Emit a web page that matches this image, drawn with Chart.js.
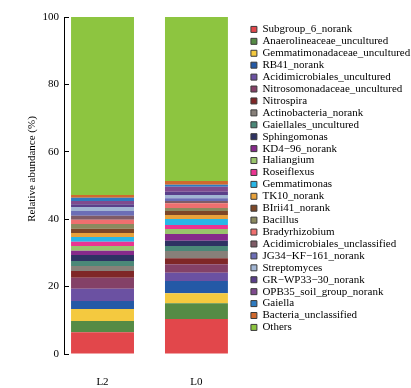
<!DOCTYPE html>
<html>
<head>
<meta charset="utf-8">
<script src="https://cdn.jsdelivr.net/npm/chart.js@4"></script>
<style>
  body { margin: 0; background: #fff; }
  #wrap { width: 411px; height: 388px; }
</style>
</head>
<body>
<div id="wrap"><canvas id="chart01"></canvas></div>
<script>
const samples = ["L2", "L0"];

const taxa = [
	"Subgroup_6_norank",
	"Anaerolineaceae_uncultured",
	"Gemmatimonadaceae_uncultured",
	"RB41_norank",
	"Acidimicrobiales_uncultured",
	"Nitrosomonadaceae_uncultured",
	"Nitrospira",
	"Actinobacteria_norank",
	"Gaiellales_uncultured",
	"Sphingomonas",
	"KD4\u221296_norank",
	"Haliangium",
	"Roseiflexus",
	"Gemmatimonas",
	"TK10_norank",
	"BIrii41_norank",
	"Bacillus",
	"Bradyrhizobium",
	"Acidimicrobiales_unclassified",
	"JG34\u2212KF\u2212161_norank",
	"Streptomyces",
	"GR\u2212WP33\u221230_norank",
	"OPB35_soil_group_norank",
	"Gaiella",
	"Bacteria_unclassified",
	"Others",
];

const l2Values = [6.44, 3.35, 3.56, 2.38, 3.65, 3.26, 1.99, 1.48, 1.49, 1.78, 1.27, 1.4, 1.27, 1.4, 1.19, 1.27, 1.4, 1.27, 1.19, 1.39, 1.19, 0.8, 0.98, 0.98, 0.8, 52.82];
const l0Values = [10.39, 4.65, 2.97, 3.65, 2.46, 2.5, 1.78, 2.16, 1.49, 1.57, 1.99, 1.48, 1.19, 1.78, 1.19, 1.18, 0.89, 1.4, 0.68, 0.8, 0.98, 0.95, 1.51, 0.57, 1.13, 48.66];

const colors = [
	"#e2474b", "#558b45", "#f4c93f", "#2459a6", "#6b51a2", "#844167",
	"#7f2727", "#878079", "#4b8878", "#2e3263", "#862a8b", "#99c46b",
	"#ea3591", "#29b7e7", "#e8a23b", "#7d4727", "#8b8a5f", "#ef6f6f",
	"#7f5b66", "#6c6eb6", "#a1b5d3", "#5a3f8a", "#7f4a8e", "#2e7bc0",
	"#d0692e", "#8dc540",
];

const serif = { family: "'Liberation Serif', 'Times New Roman', serif", size: 11 };

const datasets = taxa.map((name, i) => ({
	label: name,
	data: [l2Values[i], l0Values[i]].map((v, j) => ({ x: j + 1, y: v })),
	backgroundColor: colors[i],
	borderWidth: 0,
	categoryPercentage: 1,
	barPercentage: 0.67,
}));

const options = {
	responsive: true,
	maintainAspectRatio: false,
	animation: false,
	layout: {
		padding: { top: 17, right: 0, bottom: 0, left: 0 },
	},
	plugins: {
		tooltip: { enabled: false },
		legend: {
			position: "right",
			align: "start",
			maxWidth: 161,
			title: {
				display: true,
				text: "",
				font: { size: 5 },
				padding: 0,
			},
			labels: {
				boxWidth: 6,
				boxHeight: 6,
				padding: 0.92,
				color: "#000",
				font: serif,
				generateLabels: (chart) =>
					Chart.defaults.plugins.legend.labels.generateLabels(chart).map((item) => ({
						...item,
						strokeStyle: "#3a3a3a",
						lineWidth: 1,
					})),
			},
		},
	},
	scales: {
		x: {
			type: "linear",
			stacked: true,
			offset: false,
			min: 0.59,
			max: 2.57,
			border: { display: false },
			grid: { display: false },
			afterBuildTicks: (scale) => {
				scale.ticks = samples.map((s, i) => ({ value: i + 1 }));
			},
			afterFit: (scale) => {
				scale.height = 34;
			},
			ticks: {
				color: "#000",
				font: serif,
				padding: 14,
				callback: (value) => samples[value - 1],
			},
		},
		y: {
			stacked: true,
			min: 0,
			max: 100,
			border: { display: true, color: "#000", width: 1 },
			grid: {
				drawOnChartArea: false,
				drawTicks: true,
				tickLength: -5,
				color: "#000",
			},
			afterFit: (scale) => {
				scale.width = 64;
			},
			ticks: {
				stepSize: 20,
				color: "#000",
				font: serif,
				padding: 10,
			},
			title: {
				display: true,
				text: "\u00a0".repeat(12) + "Relative abundance (%)",
				color: "#000",
				font: serif,
				padding: { top: 25.4, bottom: 0 },
			},
		},
	},
};

new Chart(document.querySelector("#chart01"), {
	type: "bar",
	data: { datasets },
	options,
});
</script>
</body>
</html>
